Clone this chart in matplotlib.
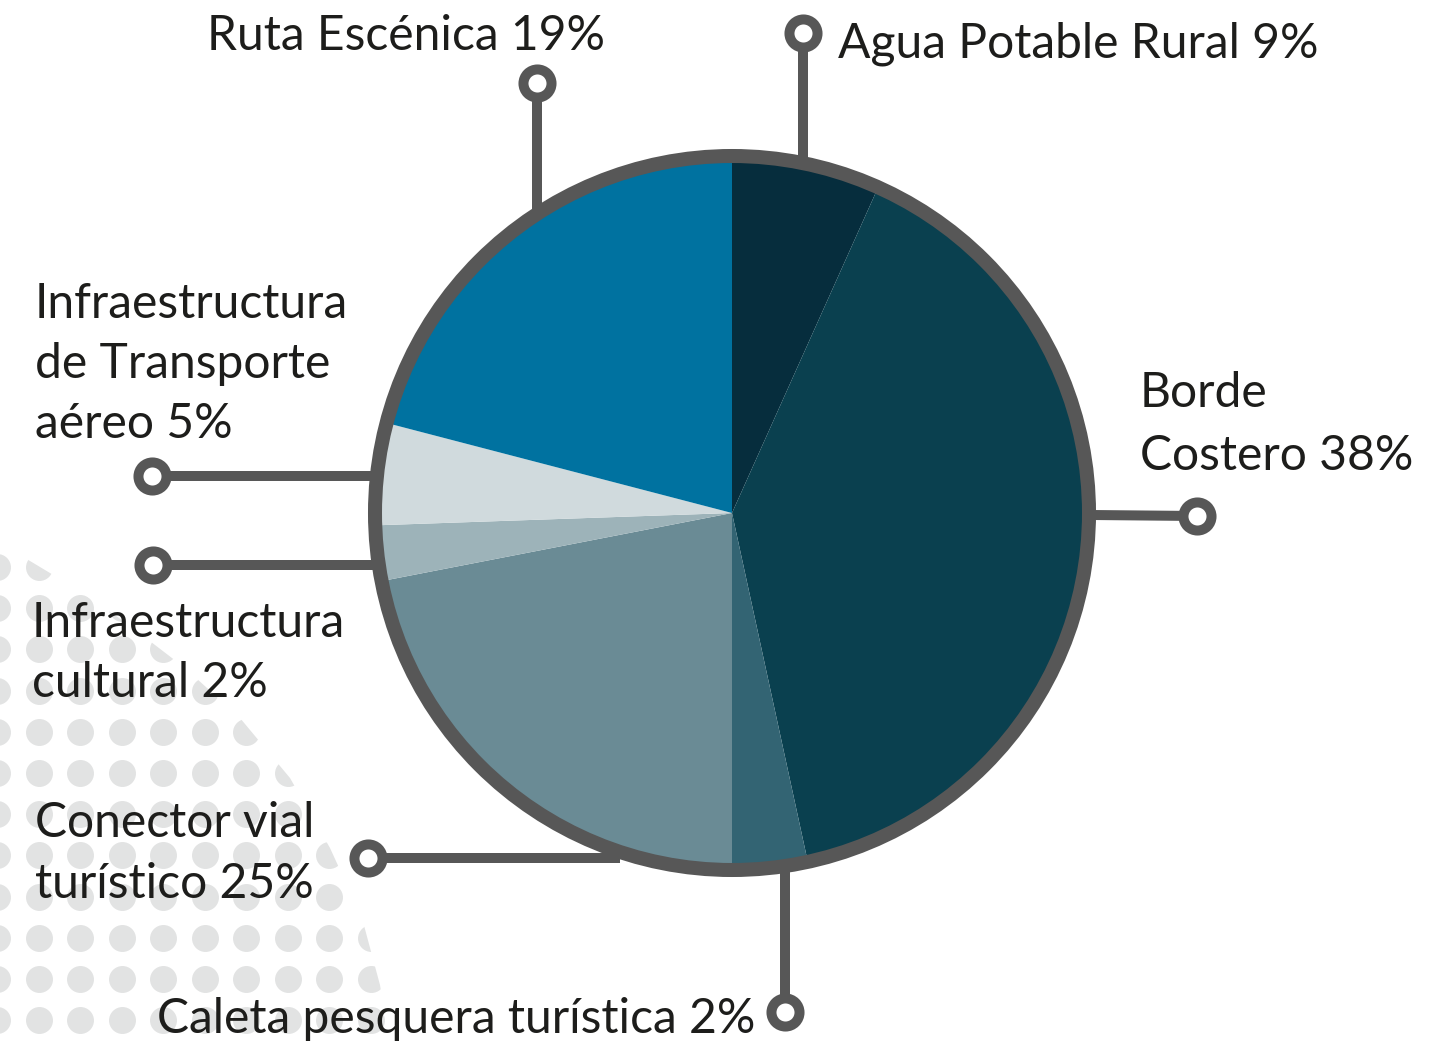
import numpy as np
import matplotlib.pyplot as plt
from matplotlib.patches import Circle, Polygon

# ------------------------------------------------------------------
# data: slice shares as drawn, printed labels keep their own numbers
# ------------------------------------------------------------------
categories = ['Agua Potable Rural', 'Borde Costero', 'Caleta pesquera turística',
              'Conector vial turístico', 'Infraestructura cultural',
              'Infraestructura de Transporte aéreo', 'Ruta Escénica']
shares = [6.7, 39.8, 3.4, 21.9, 2.5, 4.6, 20.9]
labels = ['Agua Potable Rural 9%', 'Borde\nCostero 38%', 'Caleta pesquera turística 2%',
          'Conector vial\nturístico 25%', 'Infraestructura\ncultural 2%',
          'Infraestructura\nde Transporte\naéreo 5%', 'Ruta Escénica 19%']
colors = ['#062d3d', '#0a404f', '#336473', '#6a8b95', '#9db3b9', '#d0dadd', '#0072a0']

# ------------------------------------------------------------------
# layout (pixel coordinates, y pointing down)
# ------------------------------------------------------------------
W, H = 1454, 1047
CX, CY, R = 732, 513, 352
GRAY = '#575757'
TXT = '#1d1d1b'
FS = 34.6

# leader line: start (on ring), end (knob); label: x, first baseline, line step, align
leaders = {
    'Agua Potable Rural': ((803, 160), (803, 33)),
    'Borde Costero': ((1092, 515), (1197, 516)),
    'Caleta pesquera turística': ((785, 872), (785, 1012)),
    'Conector vial turístico': ((620, 858), (368, 858)),
    'Infraestructura cultural': ((374, 565), (153, 565)),
    'Infraestructura de Transporte aéreo': ((374, 476), (152, 476)),
    'Ruta Escénica': ((537, 212), (537, 83)),
}
label_pos = {
    'Agua Potable Rural': (838, 57, 0, 'left'),
    'Borde Costero': (1140, 407, 63, 'left'),
    'Caleta pesquera turística': (755, 1033, 0, 'right'),
    'Conector vial turístico': (35, 837, 61, 'left'),
    'Infraestructura cultural': (32, 637, 60, 'left'),
    'Infraestructura de Transporte aéreo': (35, 318, 60, 'left'),
    'Ruta Escénica': (207, 50, 0, 'left'),
}

plt.rcParams['font.family'] = ['Lato', 'DejaVu Sans']

fig = plt.figure(figsize=(W / 100, H / 100), dpi=100)
ax = fig.add_axes([0, 0, 1, 1])

# background dot pattern, clipped to a soft blob in the lower left
blob = Polygon([(0, 548), (25, 558), (70, 585), (125, 622), (185, 668), (240, 718),
                (290, 778), (330, 848), (362, 918), (380, 985), (390, 1047), (0, 1047)],
               closed=True, transform=ax.transData, fc='none', ec='none')
gx, gy = np.meshgrid(np.arange(-3, 420, 41.5), np.arange(567, 1080, 41.2))
dots = ax.scatter(gx.ravel(), gy.ravel(), s=19.4 ** 2, color='#e2e3e3', lw=0, zorder=0.5)
dots.set_clip_path(blob)

# pie: y axis is flipped, so start at -90 and run counterclockwise in data space
wedges, _ = ax.pie(shares, colors=colors, startangle=-90, counterclock=True,
                   center=(CX, CY), radius=R, frame=True,
                   wedgeprops=dict(linewidth=0))
for w in wedges:
    w.set_zorder(1)

ax.add_patch(Circle((CX, CY), 357, fill=False, ec=GRAY, lw=10.1, zorder=3))

for cat in categories:
    (x0, y0), (x1, y1) = leaders[cat]
    ax.plot([x0, x1], [y0, y1], color=GRAY, lw=7.2, solid_capstyle='butt', zorder=2)
    ax.plot(x1, y1, 'o', ms=20.2, mfc='white', mec=GRAY, mew=7.2, zorder=4)

for cat, lab in zip(categories, labels):
    x, yb, step, ha = label_pos[cat]
    for i, line in enumerate(lab.split('\n')):
        ax.text(x, yb + i * step, line, ha=ha, va='baseline', fontsize=FS,
                color=TXT, zorder=5)

ax.set_xlim(0, W)
ax.set_ylim(H, 0)
ax.set_aspect('equal')
ax.axis('off')

fig.savefig('out.png', dpi=100, facecolor='white')
